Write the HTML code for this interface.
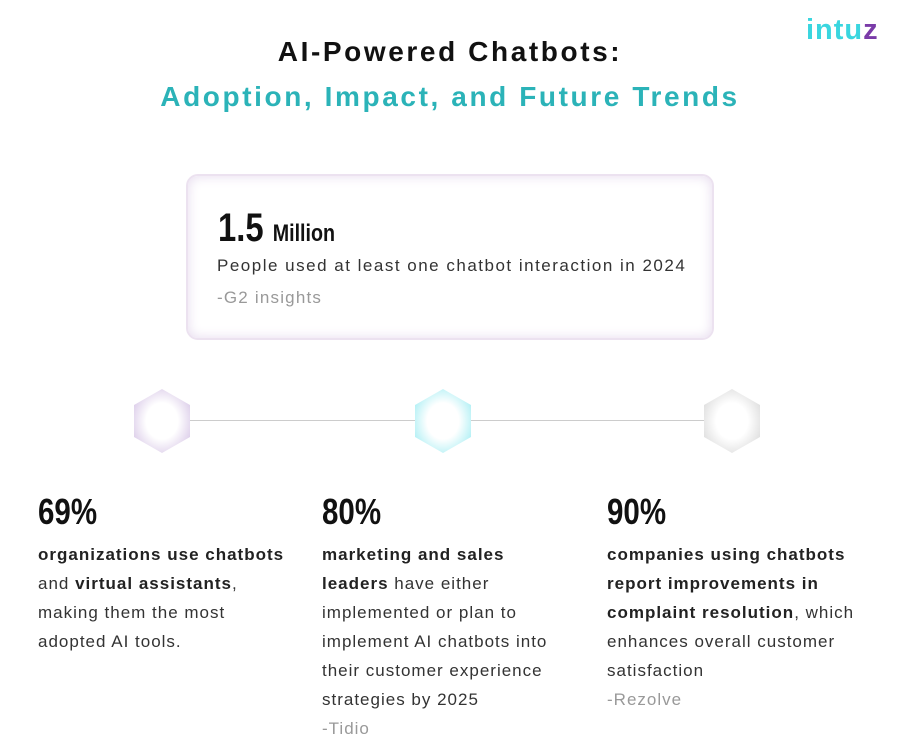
<!DOCTYPE html>
<html><head><style>
body{margin:0;width:900px;height:748px;background:#fff;font-family:"Liberation Sans",sans-serif;position:relative;overflow:hidden;color:#333}
.abs{position:absolute}
h1{position:absolute;margin:0;width:900px;text-align:center;font-size:28px;font-weight:bold;letter-spacing:2.6px}
.card{left:186px;top:174px;width:524px;height:162px;border:2px solid #ece2f0;border-radius:12px;box-shadow:inset 0 0 12px #e6dbee;background:#fff}
.big{font-family:"Liberation Sans Narrow","Liberation Sans",sans-serif;font-weight:bold;color:#111;transform-origin:0 50%;transform:scaleX(.82);white-space:nowrap}
.col{position:absolute;top:490px;width:300px;font-size:17px;line-height:29px;color:#333;letter-spacing:1px;white-space:nowrap}
.col .big{font-size:36px;line-height:44px;display:block;margin-bottom:6px;letter-spacing:0}
.col b{color:#222}
.src{color:#999}
.hex{position:absolute;width:56px;height:64px;clip-path:polygon(50% 0,100% 25%,100% 75%,50% 100%,0 75%,0 25%)}
</style></head><body>
<div class="abs" style="left:806px;top:14px;font-size:29px;font-weight:bold;color:#3ad6df;letter-spacing:1px">intu<span style="color:#7a3ba8">z</span></div>
<h1 style="top:36px;color:#111">AI-Powered Chatbots:</h1>
<h1 style="top:81px;color:#2bb3b8">Adoption, Impact, and Future Trends</h1>
<div class="abs card">
<div class="abs big" style="left:30px;top:30px;font-size:40px">1.5 <span style="font-size:24px">Million</span></div>
<div class="abs" style="left:29px;top:80px;font-size:17px;color:#333;letter-spacing:1.5px;white-space:nowrap">People used at least one chatbot interaction in 2024</div>
<div class="abs src" style="left:29px;top:112px;font-size:17px;letter-spacing:1.2px">-G2 insights</div>
</div>
<div class="abs" style="left:176px;top:420px;width:530px;height:1px;background:#ccc"></div>
<div class="hex" style="left:134px;top:389px;background:radial-gradient(#fff 40%,#cdb8e0)"></div>
<div class="hex" style="left:415px;top:389px;background:radial-gradient(#fff 40%,#8ee9f0)"></div>
<div class="hex" style="left:704px;top:389px;background:radial-gradient(#fff 40%,#d0d0d0)"></div>
<div class="col" style="left:38px"><span class="big">69%</span><b>organizations use chatbots</b><br>and <b>virtual assistants</b>,<br>making them the most<br>adopted AI tools.</div>
<div class="col" style="left:322px"><span class="big">80%</span><b>marketing and sales</b><br><b>leaders</b> have either<br>implemented or plan to<br>implement AI chatbots into<br>their customer experience<br>strategies by 2025<br><span class="src">-Tidio</span></div>
<div class="col" style="left:607px"><span class="big">90%</span><b>companies using chatbots</b><br><b>report improvements in</b><br><b>complaint resolution</b>, which<br>enhances overall customer<br>satisfaction<br><span class="src">-Rezolve</span></div>
</body></html>
